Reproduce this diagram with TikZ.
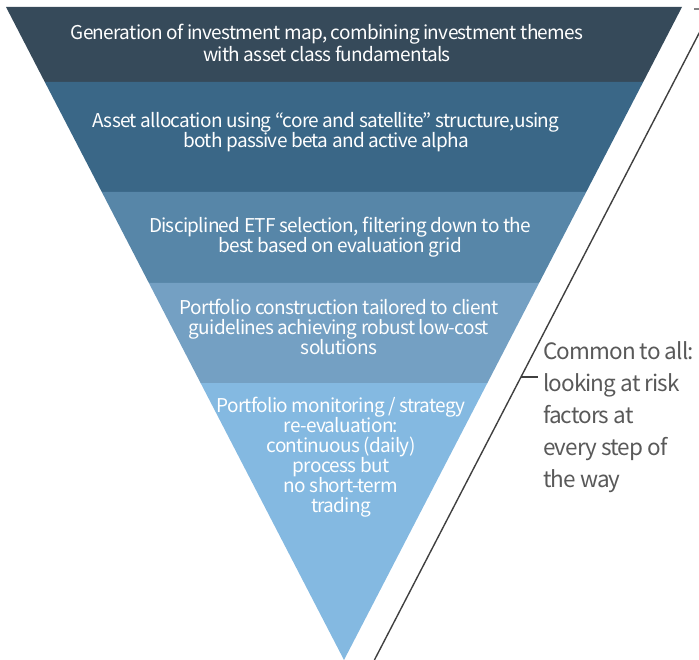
\documentclass[tikz,border=0pt]{standalone}
\usepackage{fontspec}
\setmainfont{Noto Sans CJK KR}
\newfontfamily\bandfont[LetterSpace=-3.6]{Noto Sans CJK KR}
\newfontfamily\notefont[LetterSpace=-4]{Noto Sans CJK KR}
\definecolor{bandA}{RGB}{54,74,90}
\definecolor{bandB}{RGB}{58,103,135}
\definecolor{bandC}{RGB}{87,134,168}
\definecolor{bandD}{RGB}{116,160,195}
\definecolor{bandE}{RGB}{132,185,225}
\definecolor{notegray}{RGB}{89,89,89}
\definecolor{linegray}{RGB}{64,64,64}
\tikzset{
  bandtext/.style={text=white, align=center, inner sep=0pt,
    font=\bandfont\fontsize{19}{20}\selectfont},
  notetext/.style={text=notegray, align=left, anchor=west, inner sep=0pt,
    font=\notefont\fontsize{22.5}{32}\selectfont},
  bracket/.style={draw=linegray, line width=1.4pt},
}
\begin{document}
\begin{tikzpicture}[x=1pt,y=-1pt]
\useasboundingbox (0,0) rectangle (699,660);
% triangle edges: left x = 6 + 0.5176*(y-7), right x = 682 - 0.5176*(y-7)
\fill[bandA] (6,7) -- (682,7) -- (643.2,82) -- (44.8,82) -- cycle;
\fill[bandB] (44.8,82) -- (643.2,82) -- (586.2,192) -- (101.8,192) -- cycle;
\fill[bandC] (101.8,192) -- (586.2,192) -- (539.1,283) -- (148.9,283) -- cycle;
\fill[bandD] (148.9,283) -- (539.1,283) -- (487.4,383) -- (200.6,383) -- cycle;
\fill[bandE] (200.6,383) -- (487.4,383) -- (344,660) -- cycle;

\node[bandtext] (t1) at (327,43) {Generation of investment map, combining investment themes\\with asset class fundamentals};
\node[bandtext] (t2) at (326,132) {Asset allocation using “core and satellite” structure,using\\both passive beta and active alpha};
\node[bandtext] (t3) at (340,237) {Disciplined ETF selection, filtering down to the\\best based on evaluation grid};
\node[bandtext] (t4) at (339,327) {Portfolio construction tailored to client\\guidelines achieving robust low-cost\\solutions};
\node[bandtext] (t5) at (341,457) {Portfolio monitoring / strategy\\re-evaluation:\\continuous (daily)\\process but\\no short-term\\trading};

\coordinate (lb) at (374.4,660);
\coordinate (lt) at (711.6,9);
\coordinate (tt) at (694,9);
\coordinate (lm) at (521,377);
\coordinate (tm) at (538,377);
\draw[bracket] (lb) -- (lt) -- (tt);
\draw[bracket] (lm) -- (tm);

\node[notetext] (note) at (543,417) {Common to all:\\looking at risk\\factors at\\every step of\\the way};
\end{tikzpicture}
\end{document}
